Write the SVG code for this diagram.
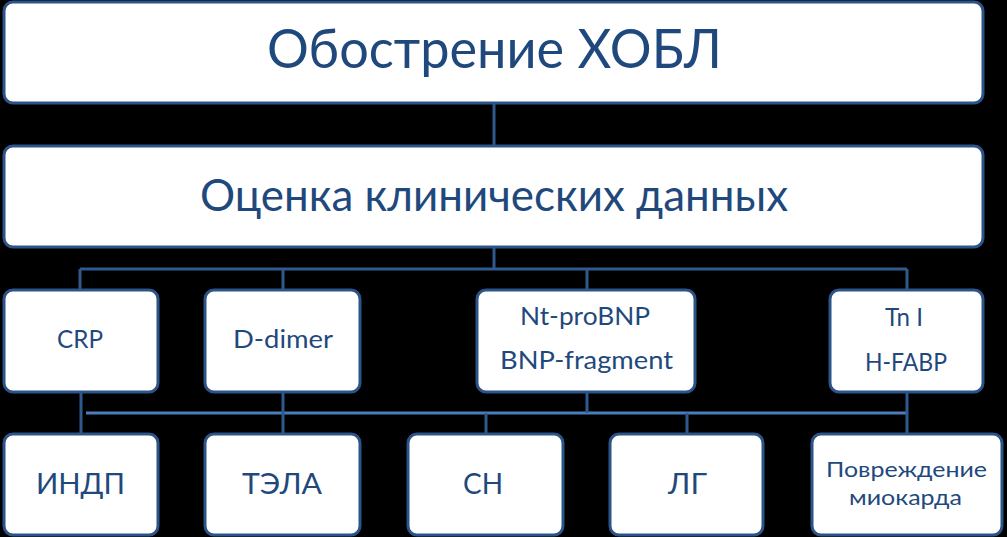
<svg xmlns="http://www.w3.org/2000/svg" width="1007" height="537" viewBox="0 0 1007 537">
<style>
.box{fill:#ffffff;stroke:#2B5489;stroke-width:3}
.t{font-family:Lato,"Open Sans","Liberation Sans",sans-serif;fill:#1F497D;text-anchor:middle}
.c{stroke:#2E5A8E;stroke-width:3;fill:none}
.c2{stroke:#4A7EBB;stroke-width:3;fill:none}
</style>
<rect x="0" y="0" width="1007" height="537" fill="#000000"/>
<g id="connectors">
<line class="c" x1="494" y1="103" x2="494" y2="146"/>
<line class="c" x1="494" y1="247" x2="494" y2="269"/>
<line class="c" x1="80" y1="269" x2="907" y2="269"/>
<line class="c" x1="80" y1="269" x2="80" y2="290"/>
<line class="c" x1="283" y1="269" x2="283" y2="290"/>
<line class="c" x1="587" y1="269" x2="587" y2="290"/>
<line class="c" x1="907" y1="269" x2="907" y2="290"/>
<line class="c2" x1="86" y1="413" x2="907" y2="413"/>
<line class="c" x1="81" y1="392" x2="81" y2="434"/>
<line class="c" x1="283" y1="392" x2="283" y2="434"/>
<line class="c" x1="587" y1="392" x2="587" y2="413"/>
<line class="c" x1="907" y1="392" x2="907" y2="434"/>
<line class="c" x1="486" y1="413" x2="486" y2="434"/>
<line class="c" x1="687" y1="413" x2="687" y2="434"/>
</g>
<g id="n-top">
<rect class="box" x="4" y="2" width="979" height="101" rx="9"/>
<text class="t" x="494.5" y="68" font-size="54" textLength="455" lengthAdjust="spacingAndGlyphs">Обострение ХОБЛ</text>
</g>
<g id="n-clinical">
<rect class="box" x="4" y="146" width="979" height="101" rx="9"/>
<text class="t" x="494" y="211" font-size="45" textLength="588" lengthAdjust="spacingAndGlyphs">Оценка клинических данных</text>
</g>
<g id="n-crp">
<rect class="box" x="4" y="290" width="154" height="102" rx="9"/>
<text class="t" x="80" y="348" font-size="25" textLength="46" lengthAdjust="spacingAndGlyphs">CRP</text>
</g>
<g id="n-ddimer">
<rect class="box" x="205" y="290" width="155" height="102" rx="9"/>
<text class="t" x="283" y="348" font-size="25" textLength="100" lengthAdjust="spacingAndGlyphs">D-dimer</text>
</g>
<g id="n-bnp">
<rect class="box" x="477" y="290" width="218" height="102" rx="9"/>
<text class="t" x="585" y="325" font-size="25" textLength="130" lengthAdjust="spacingAndGlyphs">Nt-proBNP</text>
<text class="t" x="586.5" y="369" font-size="25" textLength="173" lengthAdjust="spacingAndGlyphs">BNP-fragment</text>
</g>
<g id="n-tn">
<rect class="box" x="830" y="290" width="153" height="102" rx="9"/>
<text class="t" x="904" y="326" font-size="25" textLength="38" lengthAdjust="spacingAndGlyphs">Tn I</text>
<text class="t" x="906" y="371" font-size="25" textLength="82" lengthAdjust="spacingAndGlyphs">H-FABP</text>
</g>
<g id="n-indp">
<rect class="box" x="4" y="434" width="154" height="101" rx="9"/>
<text class="t" x="80.5" y="494" font-size="29" textLength="89" lengthAdjust="spacingAndGlyphs">ИНДП</text>
</g>
<g id="n-tela">
<rect class="box" x="205" y="434" width="155" height="101" rx="9"/>
<text class="t" x="282" y="494" font-size="29" textLength="80" lengthAdjust="spacingAndGlyphs">ТЭЛА</text>
</g>
<g id="n-sn">
<rect class="box" x="408" y="434" width="155" height="101" rx="9"/>
<text class="t" x="483" y="494" font-size="29" textLength="40" lengthAdjust="spacingAndGlyphs">СН</text>
</g>
<g id="n-lg">
<rect class="box" x="610" y="434" width="153" height="101" rx="9"/>
<text class="t" x="687.5" y="494" font-size="29" textLength="39" lengthAdjust="spacingAndGlyphs">ЛГ</text>
</g>
<g id="n-myo">
<rect class="box" x="812" y="434" width="190" height="101" rx="9"/>
<text class="t" x="906.5" y="477" font-size="21.5" textLength="161" lengthAdjust="spacingAndGlyphs">Повреждение</text>
<text class="t" x="905.5" y="505" font-size="21.5" textLength="113" lengthAdjust="spacingAndGlyphs">миокарда</text>
</g>
</svg>
